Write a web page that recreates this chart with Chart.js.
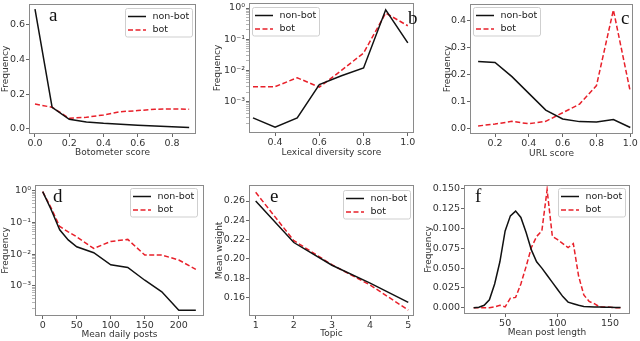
<!DOCTYPE html>
<html>
<head>
<meta charset="utf-8">
<script src="https://cdn.jsdelivr.net/npm/chart.js@4.4.0/dist/chart.umd.min.js"></script>
<style>
  body { margin: 0; background: #fff; }
  #wrap { position: relative; width: 640px; height: 341px; overflow: hidden; background: #fff; }
  #wrap canvas { position: absolute; }
</style>
</head>
<body>
<div id="wrap"></div>
<script>
// a - Botometer score
const botometerScore = [0, 0.1, 0.2, 0.3, 0.4, 0.5, 0.6, 0.7, 0.8, 0.9];
const botometerNonBot = [0.686, 0.124, 0.055, 0.04, 0.032, 0.027, 0.021, 0.017, 0.013, 0.008];
const botometerBot = [0.143, 0.124, 0.061, 0.067, 0.08, 0.099, 0.105, 0.113, 0.115, 0.113];
const botometerTicks = [0, 0.2, 0.4, 0.6, 0.8];
const freqTicksA = [0, 0.2, 0.4, 0.6];

// b - Lexical diversity score (log y)
const lexicalScore = [0.3, 0.4, 0.5, 0.6, 0.7, 0.8, 0.9, 1.0];
const lexicalNonBot = [3e-4, 1.5e-4, 3e-4, 3.5e-3, 6.7e-3, 1.2e-2, 0.88, 0.076];
const lexicalBot = [3e-3, 3e-3, 5.8e-3, 2.9e-3, 1.0e-2, 3.6e-2, 0.69, 0.27];
const lexicalTicks = [0.4, 0.6, 0.8, 1.0];
const logTicksB = [1e-3, 1e-2, 1e-1, 1];

// c - URL score
const urlScore = [0.1, 0.2, 0.3, 0.4, 0.5, 0.6, 0.7, 0.8, 0.9, 1.0];
const urlNonBot = [0.248, 0.245, 0.192, 0.13, 0.068, 0.035, 0.025, 0.024, 0.033, 0.003];
const urlBot = [0.009, 0.016, 0.026, 0.017, 0.026, 0.058, 0.09, 0.159, 0.44, 0.136];
const urlTicks = [0.2, 0.4, 0.6, 0.8, 1.0];
const freqTicksC = [0, 0.1, 0.2, 0.3, 0.4];

// d - Mean daily posts (log y)
const dailyPosts = [0, 12.5, 25, 37.5, 50, 75, 100, 125, 150, 175, 200, 225];
const dailyNonBot = [0.93, 0.25, 0.058, 0.028, 0.017, 0.011, 0.0046, 0.0038, 0.0015, 0.00065, 0.00017, 0.00017];
const dailyBot = [0.93, 0.28, 0.074, 0.05, 0.035, 0.015, 0.025, 0.029, 0.0093, 0.0093, 0.0065, 0.0033];
const postsTicks = [0, 50, 100, 150, 200];
const logTicksD = [1e-3, 1e-2, 1e-1, 1];

// e - Topic
const topics = [1, 2, 3, 4, 5];
const topicNonBot = [0.26, 0.217, 0.1935, 0.175, 0.155];
const topicBot = [0.269, 0.219, 0.194, 0.173, 0.147];
const topicTicks = [1, 2, 3, 4, 5];
const weightTicks = [0.16, 0.18, 0.2, 0.22, 0.24, 0.26];

// f - Mean post length
const postLength = [20, 25, 30, 35, 40, 45, 50, 55, 60, 65, 70, 75, 80, 85, 90, 95, 100, 105, 110, 115, 120, 125, 130, 135, 140, 145, 150, 155, 160];
const lengthNonBot = [0, 0.0005, 0.003, 0.01, 0.03, 0.058, 0.097, 0.116, 0.122, 0.114, 0.095, 0.073, 0.058, 0.05, 0.041, 0.032, 0.023, 0.014, 0.007, 0.005, 0.003, 0.0015, 0.0012, 0.001, 0.0008, 0.0006, 0.0005, 0.0003, 0.0003];
const lengthBot = [0, 0, 0, 0, 0.001, 0.003, 0.001, 0.012, 0.013, 0.03, 0.052, 0.076, 0.09, 0.097, 0.149, 0.09, 0.086, 0.081, 0.076, 0.081, 0.04, 0.016, 0.008, 0.005, 0.001, 0.001, 0.0005, 0, 0];
const lengthTicks = [50, 100, 150];
const freqTicksF = [0, 0.025, 0.05, 0.075, 0.1, 0.125, 0.15];

const NONBOT_COLOR = '#111';
const BOT_COLOR = '#e8202a';
const TEXT_COLOR = '#333';
const FRAME_COLOR = '#8a8a8a';
const FONT = 'DejaVu Sans';

Chart.defaults.font.family = FONT;

const SUP = { '0': '⁰', '1': '¹', '2': '²', '3': '³', '4': '⁴', '5': '⁵', '6': '⁶', '7': '⁷', '8': '⁸', '9': '⁹', '-': '⁻' };

function isMajor(v, majors) {
    return majors.some(m => Math.abs(Math.log10(m) - Math.log10(v)) < 1e-6);
}

function powLabel(v) {
    const e = Math.round(Math.log10(v));
    return '10' + String(e).split('').map(c => SUP[c]).join('');
}

// log axis: labelled decades plus small unlabelled minor ticks
function logTicks(majors, min, max) {
    const out = [];
    for (let e = -5; e <= 1; e++) {
        for (let k = 1; k <= 9; k++) {
            const v = k * Math.pow(10, e);
            if (v >= min && v <= max && (k > 1 || isMajor(v, majors))) out.push(v);
        }
    }
    return out;
}

// d is built right after a (this order renders its top 10⁰ label)
const panels = [
    { frame: [29, 4, 196, 134], yw: 29, xh: 24,
      x: botometerScore, nonBot: botometerNonBot, bot: botometerBot,
      xMin: -0.035, xMax: 0.94, xTicks: botometerTicks, xFmt: v => v.toFixed(1), xTitle: 'Botometer score',
      yType: 'linear', yMin: -0.029, yMax: 0.716, yTicks: freqTicksA, yFmt: v => v.toFixed(1), yTitle: 'Frequency',
      letter: 'a', letterPos: [49, 20.7], legendPos: [125, 8] },
    { frame: [35, 185, 204, 316], yw: 35, xh: 24,
      x: dailyPosts, nonBot: dailyNonBot, bot: dailyBot,
      xMin: -11.3, xMax: 237, xTicks: postsTicks, xFmt: v => String(v), xTitle: 'Mean daily posts',
      yType: 'logarithmic', yMin: 1.12e-4, yMax: 1.5, yTicks: logTicksD, yTitle: 'Frequency',
      letter: 'd', letterPos: [53, 202], legendPos: [130, 188] },
    { frame: [249, 3, 414, 133], yw: 37, xh: 25,
      x: lexicalScore, nonBot: lexicalNonBot, bot: lexicalBot,
      xMin: 0.282, xMax: 1.028, xTicks: lexicalTicks, xFmt: v => v.toFixed(1), xTitle: 'Lexical diversity score',
      yType: 'logarithmic', yMin: 0.98e-4, yMax: 1.45, yTicks: logTicksB, yTitle: 'Frequency',
      letter: 'b', letterPos: [408, 24], legendPos: [252, 7] },
    { frame: [470, 4, 633, 134], yw: 28, xh: 25,
      x: urlScore, nonBot: urlNonBot, bot: urlBot,
      xMin: 0.052, xMax: 1.016, xTicks: urlTicks, xFmt: v => v.toFixed(1), xTitle: 'URL score',
      yType: 'linear', yMin: -0.021, yMax: 0.462, yTicks: freqTicksC, yFmt: v => v.toFixed(1), yTitle: 'Frequency',
      letter: 'c', letterPos: [621, 24], legendPos: [473, 7] },
    { frame: [249, 185, 414, 316], yw: 35, xh: 23,
      x: topics, nonBot: topicNonBot, bot: topicBot,
      xMin: 0.825, xMax: 5.15, xTicks: topicTicks, xFmt: v => String(v), xTitle: 'Topic',
      yType: 'linear', yMin: 0.1409, yMax: 0.2766, yTicks: weightTicks, yFmt: v => v.toFixed(2), yTitle: 'Mean weight',
      letter: 'e', letterPos: [270, 201.7], legendPos: [343, 190] },
    { frame: [464, 185, 630, 314], yw: 41, xh: 24,
      x: postLength, nonBot: lengthNonBot, bot: lengthBot,
      xMin: 10.8, xMax: 169, xTicks: lengthTicks, xFmt: v => String(v), xTitle: 'Mean post length',
      yType: 'linear', yMin: -0.008, yMax: 0.155, yTicks: freqTicksF, yFmt: v => v.toFixed(3), yTitle: 'Frequency',
      letter: 'f', letterPos: [475, 202.3], legendPos: [558, 188] }
];

const panelDecor = {
    id: 'panelDecor',
    afterDatasetsDraw(chart, args, opts) {
        const ctx = chart.ctx;
        const a = chart.chartArea;
        ctx.save();
        // matplotlib-like box around the axes
        ctx.strokeStyle = FRAME_COLOR;
        ctx.lineWidth = 1;
        ctx.strokeRect(Math.round(a.left) + 0.5, Math.round(a.top) + 0.5,
            Math.round(a.right - a.left) - 1, Math.round(a.bottom - a.top) - 1);

        // legend
        const [lx, ly] = opts.legend;
        const bw = 67, bh = 28.5;
        ctx.beginPath();
        ctx.roundRect(lx + 0.5, ly + 0.5, bw, bh, 2);
        ctx.fillStyle = 'rgba(255,255,255,0.85)';
        ctx.fill();
        ctx.strokeStyle = '#cfcfcf';
        ctx.stroke();
        chart.data.datasets.forEach((ds, i) => {
            const y = ly + 8.5 + i * 13.5;
            ctx.beginPath();
            ctx.setLineDash(ds.borderDash || []);
            ctx.strokeStyle = ds.borderColor;
            ctx.lineWidth = ds.borderWidth;
            ctx.moveTo(lx + 3, y);
            ctx.lineTo(lx + 21, y);
            ctx.stroke();
            ctx.setLineDash([]);
            ctx.fillStyle = '#222';
            ctx.font = '9.5px "' + FONT + '"';
            ctx.textBaseline = 'middle';
            ctx.textAlign = 'left';
            ctx.fillText(ds.label, lx + 27.5, y);
        });

        // panel letter
        ctx.fillStyle = '#111';
        ctx.font = '19px "Liberation Serif"';
        ctx.textBaseline = 'alphabetic';
        ctx.fillText(opts.letter, opts.letterPos[0], opts.letterPos[1]);
        ctx.restore();
    }
};

function axisOptions(type, min, max, ticks, fmt, title, isX, size) {
    const isLog = type === 'logarithmic';
    const label = isLog ? (v => isMajor(v, ticks) ? powLabel(v) : '') : fmt;
    return {
        type: type,
        min: min,
        max: max,
        afterBuildTicks: s => {
            const vals = isLog ? logTicks(ticks, min, max) : ticks;
            s.ticks = vals.map(v => ({ value: v }));
        },
        afterFit: s => {
            if (isX) s.height = size; else s.width = size;
        },
        border: { display: false },
        grid: {
            drawOnChartArea: false,
            drawTicks: true,
            tickLength: 3,
            tickColor: c => (isLog && c.tick && !isMajor(c.tick.value, ticks)) ? '#b5b5b5' : '#666',
            color: '#666'
        },
        ticks: {
            autoSkip: false,
            source: 'data',
            maxRotation: 0,
            padding: 1,
            color: TEXT_COLOR,
            font: { size: 9.5, family: FONT },
            callback: v => label(v)
        },
        title: {
            display: true,
            text: title,
            color: TEXT_COLOR,
            font: { size: 9, family: FONT },
            padding: 0
        }
    };
}

function buildChart(p) {
    const [l, t, r, b] = p.frame;
    const padT = 8, padR = 10;
    const left = l - p.yw, top = t - padT;
    const w = (r - l) + p.yw + padR;
    const h = padT + (b - t) + p.xh;

    const canvas = document.createElement('canvas');
    canvas.width = w;
    canvas.height = h;
    canvas.style.left = left + 'px';
    canvas.style.top = top + 'px';
    canvas.style.width = w + 'px';
    canvas.style.height = h + 'px';
    document.getElementById('wrap').appendChild(canvas);

    new Chart(canvas.getContext('2d'), {
        type: 'line',
        data: {
            datasets: [
                { label: 'non-bot', data: p.x.map((x, i) => ({ x: x, y: p.nonBot[i] })),
                  borderColor: NONBOT_COLOR, borderWidth: 1.5, pointRadius: 0, tension: 0, fill: false },
                { label: 'bot', data: p.x.map((x, i) => ({ x: x, y: p.bot[i] })),
                  borderColor: BOT_COLOR, borderWidth: 1.5, borderDash: [5, 2.5], pointRadius: 0, tension: 0, fill: false }
            ]
        },
        options: {
            responsive: false,
            animation: false,
            layout: { padding: { top: padT, right: padR, left: 0, bottom: 0 } },
            plugins: {
                legend: { display: false },
                tooltip: { enabled: false },
                panelDecor: {
                    letter: p.letter,
                    letterPos: [p.letterPos[0] - left, p.letterPos[1] - top],
                    legend: [p.legendPos[0] - left, p.legendPos[1] - top]
                }
            },
            scales: {
                x: axisOptions('linear', p.xMin, p.xMax, p.xTicks, p.xFmt, p.xTitle, true, p.xh),
                y: axisOptions(p.yType, p.yMin, p.yMax, p.yTicks, p.yFmt, p.yTitle, false, p.yw)
            }
        },
        plugins: [panelDecor]
    });
}

panels.forEach(buildChart);
</script>
</body>
</html>
